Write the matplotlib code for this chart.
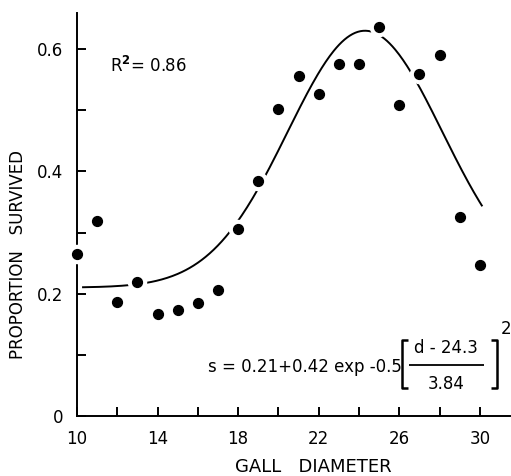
import numpy as np
import matplotlib
matplotlib.use("Agg")
import matplotlib.pyplot as plt
from matplotlib.lines import Line2D

plt.rcParams['font.family'] = ['DejaVu Sans']
plt.rcParams['mathtext.fontset'] = 'dejavusans'

# gall diameter vs proportion survived
diameter = [10, 11, 12, 13, 14, 15, 16, 17, 18, 19, 20,
            21, 22, 23, 24, 25, 26, 27, 28, 29, 30]
survived = [0.265, 0.319, 0.186, 0.219, 0.167, 0.173, 0.185, 0.206, 0.306, 0.384, 0.502,
            0.556, 0.526, 0.575, 0.575, 0.636, 0.508, 0.559, 0.591, 0.325, 0.247]

# fitted model printed on the chart
base = 0.21
amp = 0.42
mu = 24.3
sd = 3.84
r2 = 0.86

x_ticks = [10, 12, 14, 16, 18, 20, 22, 24, 26, 28, 30]
x_labels = ['10', '', '14', '', '18', '', '22', '', '26', '', '30']
y_ticks = [0, 0.1, 0.2, 0.3, 0.4, 0.5, 0.6]
y_labels = ['0', '', '0.2', '', '0.4', '', '0.6']

W, H = 511, 476
fig = plt.figure(figsize=(W / 100, H / 100), dpi=100)
ax = fig.add_axes([77 / W, 60 / H, 433 / W, 403 / H])

d_fit = np.linspace(10.3, 30.1, 300)
s_fit = base + amp * np.exp(-0.5 * ((d_fit - mu) / sd) ** 2)
ax.plot(d_fit, s_fit, color='black', lw=1.4, zorder=2)

# white halo so the line breaks around the dots, like the original
ax.scatter(diameter, survived, s=170, color='white', zorder=3, clip_on=False)
ax.scatter(diameter, survived, s=50, color='black', zorder=4, clip_on=False)

ax.set_xlim(10, 31.5)
ax.set_ylim(0, 0.659)
ax.set_xticks(x_ticks)
ax.set_xticklabels(x_labels)
ax.set_yticks(y_ticks)
ax.set_yticklabels(y_labels)
ax.tick_params(direction='in', length=6.5, width=1.4, labelsize=12, pad=10)

for side in ['top', 'right']:
    ax.spines[side].set_visible(False)
for side in ['left', 'bottom']:
    ax.spines[side].set_linewidth(1.4)

ax.set_xlabel('GALL   DIAMETER', fontsize=13)
ax.xaxis.set_label_coords(0.545, -0.105)
ax.set_ylabel('PROPORTION   SURVIVED', fontsize=12)
ax.yaxis.set_label_coords(-0.115, 0.40)

ax.text(11.64, 0.572, 'R$^{\\mathbf{2}}$= %.2f' % r2, fontsize=12, va='center', ha='left')


# equation, laid out in figure pixels (from top-left)
def fx(x):
    return x / W


def fy(y):
    return 1 - y / H


def seg(xs, ys, lw=1.4):
    fig.add_artist(Line2D([fx(v) for v in xs], [fy(v) for v in ys],
                          transform=fig.transFigure, color='black', lw=lw,
                          solid_capstyle='butt'))


fig.text(fx(208), fy(372), 's = %.2f+%.2f exp -0.5' % (base, amp), fontsize=12,
         va='baseline', ha='left')
fig.text(fx(446), fy(348), 'd - %.1f' % mu, fontsize=12, va='center', ha='center')
fig.text(fx(446), fy(384), '%.2f' % sd, fontsize=12, va='center', ha='center')
seg([409, 484], [365, 365], lw=1.3)
seg([408, 402, 402, 408], [340, 340, 388, 388], lw=1.8)
seg([491, 497, 497, 491], [340, 340, 388, 388], lw=1.8)
fig.text(fx(506), fy(329), '2', fontsize=12, va='center', ha='center')

fig.savefig('out.png', dpi=100)
